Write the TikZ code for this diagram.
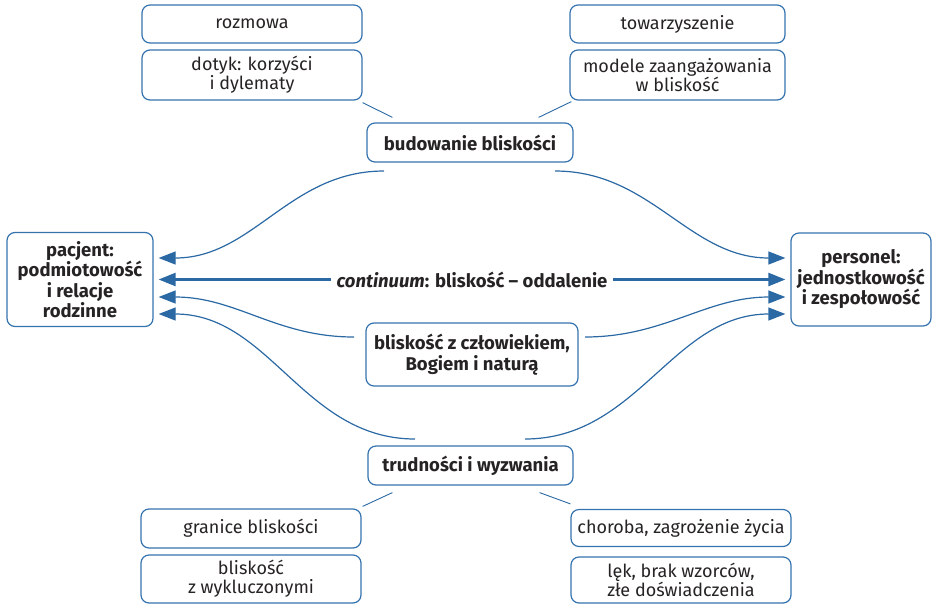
\documentclass[tikz,border=0pt]{standalone}
\usepackage{fontspec}
\setmainfont{Fira Sans}
\usetikzlibrary{arrows.meta}
\definecolor{ramka}{HTML}{3573AE}
\definecolor{linia}{HTML}{2B69A4}
\definecolor{tekst}{HTML}{262324}
\tikzset{
  pole/.style={draw=ramka, line width=1.2pt, rounded corners=8pt, align=center,
    text=tekst, inner sep=0pt, font=\fontsize{18}{19}\selectfont},
  glowne/.style={pole, font=\fontsize{18.5}{20.5}\selectfont\bfseries},
  grot/.tip={Triangle[length=17pt,width=13pt]},
  strzalka/.style={draw=linia, line width=1.2pt, -grot},
  kreska/.style={draw=linia, line width=0.9pt}
}
\begin{document}
\begin{tikzpicture}[x=1pt, y=-1pt]
	\useasboundingbox (0,0) rectangle (935,606);
	% pola u gory
	\node[pole, minimum width=220, minimum height=38] (rozmowa) at (252,24) {rozmowa};
	\node[pole, minimum width=220, minimum height=50] (dotyk) at (252,75) {dotyk: korzyści\\i dylematy};
	\node[pole, minimum width=215, minimum height=38] (towarzyszenie) at (677.5,24) {towarzyszenie};
	\node[pole, minimum width=215, minimum height=50] (modele) at (677.5,75) {modele zaangażowania\\w bliskość};
	\node[glowne, minimum width=206, minimum height=39] (budowanie) at (470,142.5) {budowanie bliskości};
	% pola po bokach
	\node[glowne, minimum width=146, minimum height=94] (pacjent) at (80,279.5) {pacjent:\\podmiotowość\\i relacje\\rodzinne};
	\node[glowne, minimum width=140, minimum height=93] (personel) at (861,279.5) {personel:\\jednostkowość\\i zespołowość};
	% pola w srodku i u dolu
	\node[glowne, minimum width=212, minimum height=63] (czlowiek) at (472,354.5) {bliskość z człowiekiem,\\Bogiem i naturą};
	\node[glowne, minimum width=205, minimum height=39] (trudnosci) at (470.5,465.5) {trudności i wyzwania};
	\node[pole, minimum width=220, minimum height=39] (granice) at (251,528.5) {granice bliskości};
	\node[pole, minimum width=220, minimum height=48] (wykluczeni) at (251,579) {bliskość\\z wykluczonymi};
	\node[pole, minimum width=220, minimum height=37] (choroba) at (681,528) {choroba, zagrożenie życia};
	\node[pole, minimum width=220, minimum height=46] (lek) at (681,580) {lęk, brak wzorców,\\złe doświadczenia};

	% punkty startowe lukow
	\coordinate (bud-l) at (384,171);
	\coordinate (bud-p) at (555,171);
	\coordinate (czl-l) at (354,337);
	\coordinate (czl-p) at (585,337);
	\coordinate (trud-l) at (415,439);
	\coordinate (trud-p) at (525,439);

	% kreski do pol bocznych
	\draw[kreska] ([yshift=-2pt]dotyk.south east) -- ([xshift=26pt,yshift=5pt]budowanie.north west);
	\draw[kreska] ([xshift=2pt,yshift=-1pt]modele.south west) -- ([xshift=-35pt,yshift=5pt]budowanie.north east);
	\draw[kreska] ([xshift=25pt,yshift=-7pt]trudnosci.south west) -- ([xshift=1pt,yshift=2pt]granice.north east);
	\draw[kreska] ([xshift=-34pt,yshift=-7pt]trudnosci.south east) -- ([yshift=5pt]choroba.north west);

	% continuum
	\draw[linia, line width=2.4pt, grot-grot]
		([xshift=5pt]pacjent.east) -- ([xshift=-5pt]personel.west)
		node[midway, fill=white, text=tekst, inner xsep=6pt, font=\fontsize{18.5}{20}\selectfont\bfseries]
		(continuum) {\textit{continuum}: bliskość – oddalenie};

	% luki
	\draw[strzalka] (bud-l) to[out=180, in=0] ([xshift=5pt,yshift=21.5pt]pacjent.east);
	\draw[strzalka] (bud-p) to[out=0, in=180] ([xshift=-5pt,yshift=21.5pt]personel.west);
	\draw[strzalka] (czl-l) to[out=180, in=0] ([xshift=5pt,yshift=-17.5pt]pacjent.east);
	\draw[strzalka] (czl-p) to[out=0, in=180] ([xshift=-5pt,yshift=-17.5pt]personel.west);
	\draw[strzalka] (trud-l) to[out=180, in=0] ([xshift=5pt,yshift=-34.5pt]pacjent.east);
	\draw[strzalka] (trud-p) to[out=0, in=180] ([xshift=-5pt,yshift=-34.5pt]personel.west);
\end{tikzpicture}
\end{document}
